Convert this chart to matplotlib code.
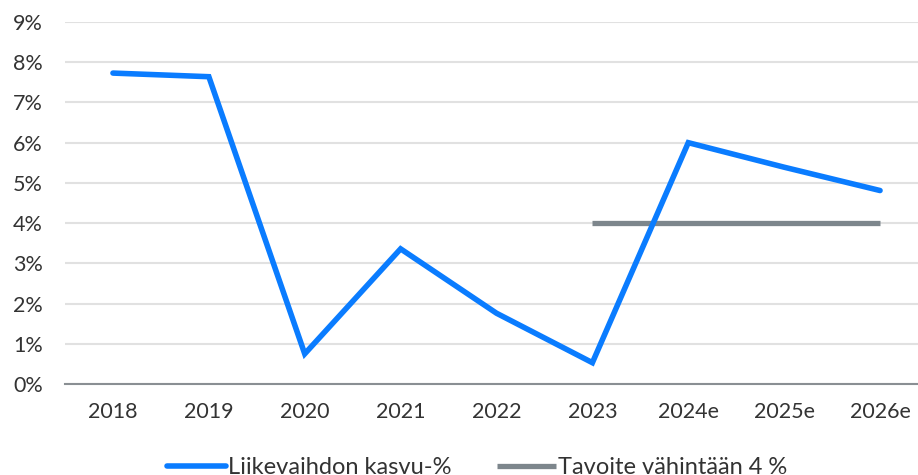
import matplotlib.pyplot as plt

years = ["2018", "2019", "2020", "2021", "2022", "2023", "2024e", "2025e", "2026e"]
growth = [7.73, 7.64, 0.75, 3.36, 1.76, 0.53, 6.0, 5.39, 4.81]
target_years = ["2023", "2024e", "2025e", "2026e"]
target = [4.0, 4.0, 4.0, 4.0]
yticks = [0, 1, 2, 3, 4, 5, 6, 7, 8, 9]

plt.rcParams['font.family'] = ['Lato', 'DejaVu Sans']
txt = "#333333"

fig = plt.figure(figsize=(9.18, 4.75), dpi=100)
ax = fig.add_axes([65/918, 91/475, 863/918, 362/475])

x = list(range(len(years)))
tx = [years.index(y) for y in target_years]
ax.plot(tx, target, color="#7d868c", lw=3.8, solid_capstyle="butt", label="Tavoite vähintään 4 %", zorder=3)
ax.plot(x, growth, color="#0a7cff", lw=4.0, solid_capstyle="round", solid_joinstyle="miter",
        label="Liikevaihdon kasvu-%", zorder=4)

ax.set_xlim(-0.5, len(years) - 0.5)
ax.set_ylim(0, 9)
ax.set_yticks(yticks)
ax.set_yticklabels([f"{v}%" for v in yticks])
ax.set_xticks(x)
ax.set_xticklabels(years)
ax.tick_params(length=0, labelsize=15.5, colors=txt)
ax.tick_params(axis="y", pad=16)
ax.tick_params(axis="x", pad=13)
ax.grid(axis="y", color="#e1e1e1", lw=1.5)
ax.set_axisbelow(True)
for s in ["top", "right", "left"]:
    ax.spines[s].set_visible(False)
ax.spines["bottom"].set_color("#8a8f93")
ax.spines["bottom"].set_linewidth(1.5)
ax.spines["bottom"].set_zorder(2)

h, l = ax.get_legend_handles_labels()
fig.legend(h[::-1], l[::-1], loc="center", bbox_to_anchor=(477/918, 1 - 468/475), ncol=2,
           frameon=False, fontsize=17, handlelength=2.5, handletextpad=0.1,
           columnspacing=1.9, labelcolor=txt)

fig.savefig("out.png", dpi=100)
